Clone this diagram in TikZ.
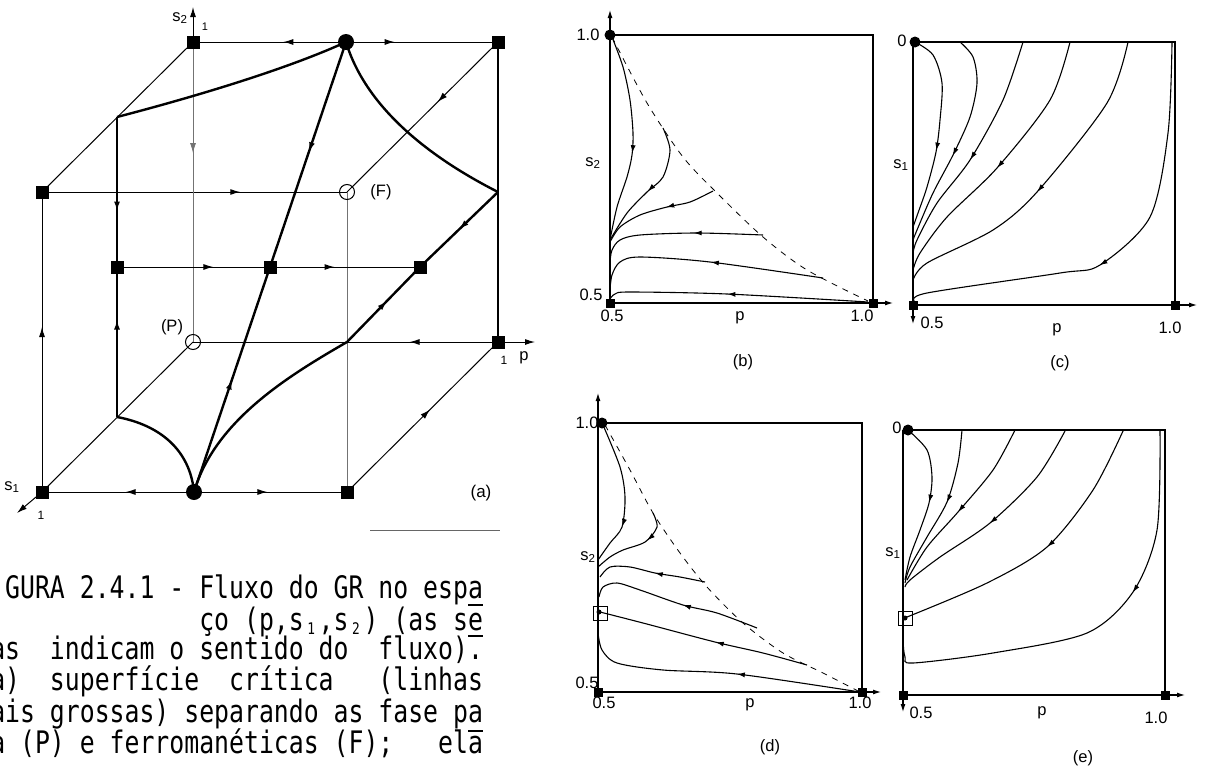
\documentclass[tikz,border=0pt]{standalone}
\usepackage{fontspec}
\usetikzlibrary{arrows.meta,decorations.markings}
\newfontfamily\capfont[FakeStretch=0.8]{DejaVu Sans Mono}
\newfontfamily\labfont{Liberation Sans}
\newcommand\csub[1]{\makebox[14.93pt]{\raisebox{-4pt}{\fontsize{16}{16}\selectfont #1}}}
\tikzset{
  thinl/.style={line width=1pt},
  backl/.style={line width=0.8pt, black!55},
  medl/.style={line width=1.5pt},
  thickl/.style={line width=2.4pt},
  pl/.style={line width=1.1pt},
  dsh/.style={line width=0.8pt, dash pattern=on 6pt off 6pt},
  fa/.style={postaction={decorate,decoration={markings,mark=at position #1 with {\arrow{Latex[length=10pt,width=6pt]}}}}},
  fb/.style={postaction={decorate,decoration={markings,mark=at position #1 with {\arrow{Latex[length=8pt,width=5pt]}}}}},
  tipa/.style={-{Latex[length=10pt,width=6pt]}},
  tipb/.style={-{Latex[length=8pt,width=5pt]}},
  sqa/.style={rectangle, fill=black, minimum size=13pt, inner sep=0pt},
  dota/.style={circle, fill=black, minimum size=16pt, inner sep=0pt},
  odota/.style={circle, draw=black, line width=1pt, minimum size=15pt, inner sep=0pt},
  sqb/.style={rectangle, fill=black, minimum size=9pt, inner sep=0pt},
  dotb/.style={circle, fill=black, minimum size=11pt, inner sep=0pt},
  osq/.style={rectangle, draw=black, line width=0.8pt, minimum size=14pt, inner sep=0pt},
  fixdot/.style={circle, fill=black, minimum size=5pt, inner sep=0pt},
  lab/.style={font=\labfont\fontsize{16.5}{16.5}\selectfont, inner sep=0pt},
  captxt/.style={anchor=base west, inner sep=0pt, font=\capfont\fontsize{31}{31}\selectfont},
}
\begin{document}
\begin{tikzpicture}[x=1pt,y=-1pt]
\useasboundingbox (0,0) rectangle (1209,771);
\fill[white] (0,0) rectangle (1209,771);
\clip (0,0) rectangle (1209,771);

% ================= (a) cube =================
\coordinate (B1) at (193,42);
\coordinate (T) at (346,42);
\coordinate (B2) at (498,42);
\coordinate (B3) at (498,342);
\coordinate (P) at (193,342);
\coordinate (F1) at (42,192);
\coordinate (F) at (347,192);
\coordinate (F3) at (347,492);
\coordinate (S1) at (42,492);
\coordinate (Bc) at (194,492);
\coordinate (MT) at (117,117);
\coordinate (MB) at (117,417);
\coordinate (Lc) at (117,267);
\coordinate (C) at (270,267);
\coordinate (Rc) at (420,267);
\coordinate (Rm) at (498,192);
\coordinate (Fm) at (347,342);
\coordinate (s2tip) at (193,7);
\coordinate (ptip) at (535,342);
\coordinate (s1tip) at (17,513);

% thin edges
\draw[thinl, fa=0.41] (T) -- (B1);
\draw[thinl, fa=0.32] (T) -- (B2);
\draw[thinl] (B1) -- (F1);
\draw[thinl, fa=0.40] (B2) -- (F);
\draw[thinl, fa=0.65] (F1) -- (F);
\draw[backl, fa=0.37] (B1) -- (P);
\draw[medl] (B2) -- (B3);
\draw[thinl, fa=0.55] (S1) -- (F1);
\draw[backl] (F) -- (F3);
\draw[thinl, fa=0.29] (B3) -- (P);
\draw[thinl] (P) -- (S1);
\draw[thinl, fa=0.55] (F3) -- (B3);
\draw[thinl, fa=0.45] (Bc) -- (S1);
\draw[thinl, fa=0.48] (Bc) -- (F3);
\draw[thinl, fa=0.63] (Lc) -- (C);
\draw[thinl, fa=0.43] (C) -- (Rc);
% axes
\draw[thinl, tipa] (B1) -- (s2tip);
\draw[thinl, tipa] (B3) -- (ptip);
\draw[thinl, tipa] (S1) -- (s1tip);
% critical surface (thick)
\draw[thickl, fa=0.63] (MT) -- (Lc);
\draw[thickl, fa=0.65] (MB) -- (Lc);
\draw[thickl, fa=0.5] (Rm) -- (Rc);
\draw[thickl, fa=0.55] (Fm) -- (Rc);
\draw[thickl, fa=0.49] (T) -- (C);
\draw[thickl, fa=0.5] (Bc) -- (C);
\draw[thickl] (MT) .. controls (190,98) and (285,70) .. (T);
\draw[thickl] (T) .. controls (365,105) and (425,155) .. (Rm);
\draw[thickl] (MB) .. controls (160,425) and (190,450) .. (Bc);
\draw[thickl] (Fm) .. controls (290,375) and (215,420) .. (Bc);
% fixed points
\node[sqa] (nB1) at (B1) {};
\node[sqa] (nB2) at (B2) {};
\node[sqa] (nB3) at (B3) {};
\node[sqa] (nF1) at (F1) {};
\node[sqa] (nF3) at (F3) {};
\node[sqa] (nS1) at (S1) {};
\node[sqa] (nLc) at (Lc) {};
\node[sqa] (nC) at (C) {};
\node[sqa] (nRc) at (Rc) {};
\node[dota] (nT) at (T) {};
\node[dota] (nBc) at (Bc) {};
\node[odota] (nF) at (F) {};
\node[odota] (nP) at (P) {};
% labels
\node[lab] (ls2) at (180,18) {s\textsubscript{2}};
\node[lab, font=\labfont\fontsize{11}{11}\selectfont] (l1a) at (205,27) {1};
\node[lab] (lF) at (381,192) {(F)};
\node[lab] (lP) at (172,327) {(P)};
\node[lab, font=\labfont\fontsize{12}{12}\selectfont] (l1b) at (504,360) {1};
\node[lab] (lp) at (524,358) {p};
\node[lab] (ls1) at (12,487) {s\textsubscript{1}};
\node[lab, font=\labfont\fontsize{12}{12}\selectfont] (l1c) at (41,515) {1};
\node[lab, font=\labfont\fontsize{17}{17}\selectfont] (la) at (481,493) {(a)};
\draw[black!60, line width=1pt] (370,530) -- (500,530);

% ================= caption =================
\node[captxt] (c1) at (5,598) {GURA 2.4.1 - Fluxo do GR no espa};
\node[captxt] (c2) at (199.1,630) {ço (p,s\csub{1},s\csub{2}) (as se};
\node[captxt] (c3) at (-9.93,659) {as~~indicam o sentido do~~fluxo).};
\node[captxt] (c4) at (-9.93,690) {a)~~superfície~~crítica~~~(linhas};
\node[captxt] (c5) at (-9.93,722) {ais grossas) separando as fase pa};
\node[captxt] (c6) at (-9.93,753) {a (P) e ferromanéticas (F);~~~ela};
\draw[line width=1.4pt] (468,605) -- (483,605);
\draw[line width=1.4pt] (468,636) -- (483,636);
\draw[line width=1.4pt] (468,731) -- (483,731);

% ================= (b) =================
\coordinate (bO) at (610,303);
\coordinate (bT) at (610,35);
\coordinate (bR) at (873,35);
\coordinate (bX1) at (873,303);
\coordinate (bY) at (610,10);
\coordinate (bX) at (893,303);
\draw[pl] (bT) -- (bR) -- (bX1);
\draw[pl,tipb] (bO) -- (bY);
\draw[pl,tipb] (bO) -- (bX);
\draw[dsh] plot[smooth] coordinates {(612,37) (647,103) (683,157) (717,193) (763,237) (807,270) (868,301)};
\draw[pl,fb=0.57] plot[smooth] coordinates {(612,37) (623,67) (630,100) (633,133) (632,155) (627,177) (617,207) (610,240)};
\draw[pl,fb=0.54] plot[smooth] coordinates {(663,128) (670,150) (663,177) (647,192) (627,213) (610,240)};
\draw[pl,fb=0.42] plot[smooth] coordinates {(713,191) (690,202) (667,207) (640,215) (620,227) (610,242)};
\draw[pl,fb=0.41] plot[smooth] coordinates {(763,235) (697,233) (640,235) (620,240) (612,250) (610,262)};
\draw[pl,fb=0.48] plot[smooth] coordinates {(823,278) (710,262) (640,257) (620,262) (612,275) (610,290)};
\draw[pl,fb=0.54] plot[smooth] coordinates {(868,302) (727,294) (630,292) (615,294) (610,299)};
\node[dotb] (nbT) at (bT) {};
\node[sqb] (nbO) at (bO) {};
\node[sqb] (nbX) at (bX1) {};
\node[lab] (b10) at (588,35) {1.0};
\node[lab] (b05) at (591,295) {0.5};
\node[lab] (bs2) at (593,163) {s\textsubscript{2}};
\node[lab] (b05x) at (612,316) {0.5};
\node[lab] (bp) at (740,318) {p};
\node[lab] (b10x) at (862,316) {1.0};
\node[lab] (blab) at (743,362) {(b)};

% ================= (c) =================
\coordinate (cO) at (913,305);
\coordinate (cT) at (913,42);
\coordinate (cR) at (1175,42);
\coordinate (cX1) at (1175,305);
\coordinate (cY) at (913,324);
\coordinate (cX) at (1197,305);
\draw[pl] (cT) -- (cR) -- (cX1);
\draw[pl,tipb] (cT) -- (cY);
\draw[pl,tipb] (cO) -- (cX);
\draw[pl,fb=0.6] plot[smooth] coordinates {(915,42) (933,55) (942,83) (940,120) (936,152) (927,187) (918,213) (913,227)};
\draw[pl,fb=0.57] plot[smooth] coordinates {(960,42) (973,57) (977,83) (970,117) (953,155) (933,193) (917,230) (913,240)};
\draw[pl,fb=0.54] plot[smooth] coordinates {(1023,42) (1003,100) (970,160) (937,203) (917,240) (913,253)};
\draw[pl,fb=0.525] plot[smooth] coordinates {(1070,42) (1050,100) (997,168) (947,217) (920,253) (913,270)};
\draw[pl,fb=0.535] plot[smooth] coordinates {(1128,42) (1107,103) (1037,192) (993,230) (927,263) (913,280)};
\draw[pl,fb=0.56] plot[smooth] coordinates {(1172,43) (1168,133) (1150,217) (1100,265) (1060,273) (927,293) (915,302)};
\node[dotb] (ncT) at (915,42) {};
\node[sqb] (ncO) at (cO) {};
\node[sqb] (ncX) at (cX1) {};
\node[lab] (c0) at (902,41) {0};
\node[lab] (cs1) at (901,165) {s\textsubscript{1}};
\node[lab] (c05x) at (932,323) {0.5};
\node[lab] (cp) at (1057,330) {p};
\node[lab] (c10x) at (1170,328) {1.0};
\node[lab] (clab) at (1060,363) {(c)};

% ================= (d) =================
\coordinate (dO) at (598,692);
\coordinate (dT) at (598,423);
\coordinate (dR) at (862,423);
\coordinate (dX1) at (862,692);
\coordinate (dY) at (598,393);
\coordinate (dX) at (881,692);
\draw[pl] (dT) -- (dR) -- (dX1);
\draw[pl,tipb] (dO) -- (dY);
\draw[pl,tipb] (dO) -- (dX);
\draw[dsh] plot[smooth] coordinates {(605,425) (630,470) (653,513) (680,553) (707,587) (743,623) (783,653) (823,673) (860,692)};
\draw[pl,fb=0.72] plot[smooth] coordinates {(603,425) (620,467) (625,497) (622,527) (610,543) (598,560)};
\draw[pl,fb=0.36] plot[smooth] coordinates {(653,513) (657,527) (645,542) (623,550) (610,557) (598,567)};
\draw[pl,fb=0.46] plot[smooth] coordinates {(705,582) (680,577) (655,573) (630,567) (610,567) (600,577)};
\draw[pl,fb=0.45] plot[smooth] coordinates {(757,628) (717,613) (683,605) (640,590) (617,583) (603,587) (599,597)};
\draw[pl,fb=0.44] plot[smooth] coordinates {(807,665) (763,653) (715,642) (643,623) (600,612)};
\draw[pl,fb=0.44] plot[smooth] coordinates {(860,692) (737,674) (663,670) (617,663) (602,650) (598,633)};
\node[dotb] (ndT) at (602,423) {};
\node[sqb] (ndO) at (dO) {};
\node[sqb] (ndX) at (dX1) {};
\node[osq] (ndq) at (600,613) {};
\node[fixdot] (ndp) at (599,612) {};
\node[lab] (d10) at (587,423) {1.0};
\node[lab] (ds2) at (588,557) {s\textsubscript{2}};
\node[lab] (d05) at (587,683) {0.5};
\node[lab] (d05x) at (604,703) {0.5};
\node[lab] (dp) at (750,705) {p};
\node[lab] (d10x) at (860,703) {1.0};
\node[lab] (dlab) at (770,747) {(d)};

% ================= (e) =================
\coordinate (eO) at (903,695);
\coordinate (eT) at (903,430);
\coordinate (eR) at (1165,430);
\coordinate (eX1) at (1165,695);
\coordinate (eY) at (903,712);
\coordinate (eX) at (1185,695);
\draw[pl] (eT) -- (eR) -- (eX1);
\draw[pl,tipb] (eT) -- (eY);
\draw[pl,tipb] (eO) -- (eX);
\draw[pl,fb=0.5] plot[smooth] coordinates {(908,430) (927,450) (932,477) (929,503) (920,530) (910,557) (905,580)};
\draw[pl,fb=0.45] plot[smooth] coordinates {(962,430) (958,463) (947,502) (927,537) (910,567) (905,583)};
\draw[pl,fb=0.54] plot[smooth] coordinates {(1015,430) (993,470) (958,512) (927,547) (907,580)};
\draw[pl,fb=0.53] plot[smooth] coordinates {(1065,431) (1037,477) (990,523) (940,557) (910,580) (905,587)};
\draw[pl,fb=0.47] plot[smooth] coordinates {(1123,431) (1093,490) (1047,547) (987,583) (907,617)};
\draw[pl,fb=0.37] plot[smooth] coordinates {(1160,431) (1157,530) (1133,592) (1087,633) (993,653) (913,663) (905,657) (903,640) (903,625)};
\node[dotb] (neT) at (908,430) {};
\node[sqb] (neO) at (eO) {};
\node[sqb] (neX) at (eX1) {};
\node[osq] (neq) at (905,618) {};
\node[fixdot] (nep) at (905,618) {};
\node[lab] (e0) at (897,428) {0};
\node[lab] (es1) at (893,553) {s\textsubscript{1}};
\node[lab] (e05x) at (921,713) {0.5};
\node[lab] (ep) at (1042,713) {p};
\node[lab] (e10x) at (1156,718) {1.0};
\node[lab] (elab) at (1083,758) {(e)};
\end{tikzpicture}
\end{document}
